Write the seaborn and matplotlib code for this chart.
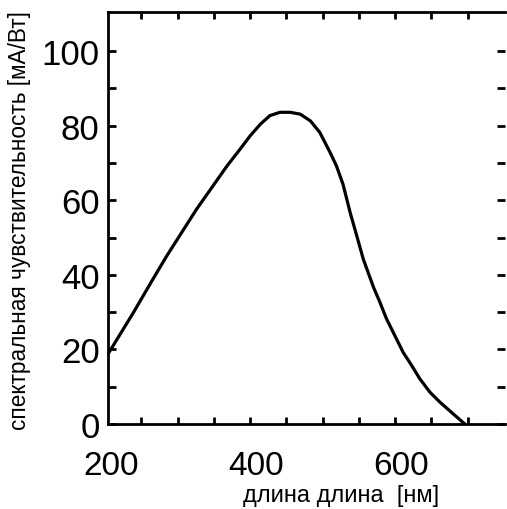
import numpy as np
import pandas as pd
import matplotlib
matplotlib.use('Agg')
import matplotlib.pyplot as plt
import seaborn as sns
from matplotlib.ticker import FixedLocator

# spectral response curve
wavelength_nm = [196, 231, 258, 277, 318, 360, 378, 392, 406, 419, 433, 447, 461,
                 475, 488, 502, 511, 520, 530, 536, 548, 562, 571, 580, 603, 615,
                 626, 640, 654, 672, 688]
sensitivity_ma_w = [18.8, 29.9, 38.9, 45.1, 57.6, 69.2, 73.7, 77.3, 80.4, 82.7, 83.6, 83.6, 83.1,
                    81.3, 78.2, 72.9, 69.2, 64.3, 56.6, 52.5, 44.2, 36.7, 32.6, 28.2, 19.2, 15.6,
                    12.1, 8.5, 5.8, 2.7, 0.0]

x_labels = [200, 400, 600]
x_minor = [242, 292, 342, 392, 442, 492, 542, 592, 642, 692]
y_labels = [0, 20, 40, 60, 80, 100]
y_minor = [10, 30, 50, 70, 90]

sns.set_theme(style="ticks")
plt.rcParams['font.family'] = ['Liberation Sans', 'DejaVu Sans']

df = pd.DataFrame({"nm": wavelength_nm, "s": sensitivity_ma_w})

fig = plt.figure(figsize=(5.07, 5.10), dpi=100)
ax = fig.add_axes([108 / 507, 85 / 510, 397 / 507, 412 / 510])
sns.lineplot(data=df, x="nm", y="s", ax=ax, color="black", linewidth=2.3,
             solid_joinstyle='round', solid_capstyle='round')

ax.set_xlim(195.9, 743.4)
ax.set_ylim(0, 110.5)

ax.xaxis.set_major_locator(FixedLocator(x_labels))
ax.xaxis.set_minor_locator(FixedLocator(x_minor))
ax.set_xticklabels([str(v) for v in x_labels])
ax.yaxis.set_major_locator(FixedLocator(y_labels))
ax.yaxis.set_minor_locator(FixedLocator(y_minor))
ax.set_yticklabels([str(v) for v in y_labels])

ax.tick_params(axis='x', which='major', length=0, pad=19, labelsize=24, colors='black')
ax.tick_params(axis='x', which='minor', direction='in', length=5, width=2,
               top=True, bottom=True, colors='black')
ax.tick_params(axis='y', which='both', direction='in', length=6, width=2,
               left=True, right=True, labelsize=25, pad=6, colors='black')

for side in ['left', 'bottom', 'top']:
    ax.spines[side].set_linewidth(2)
    ax.spines[side].set_color('black')
ax.spines['right'].set_visible(False)

ax.set_xlabel("длина длина  [нм]", fontsize=17, color='black')
ax.set_ylabel("спектральная чувствительность [мА/Вт]", fontsize=16.3, color='black')
ax.xaxis.set_label_coords((341.5 - 108) / 397, -0.146)
ax.yaxis.set_label_coords(-0.194, 0.495)

fig.savefig("out.png", dpi=100)
plt.close(fig)
